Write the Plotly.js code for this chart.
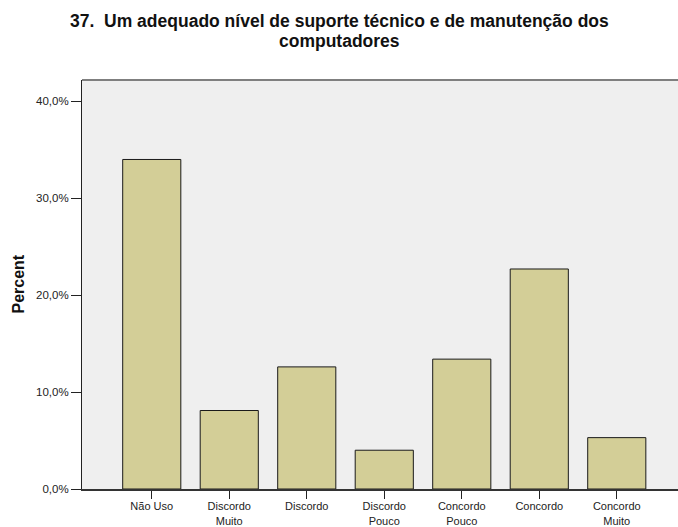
<!DOCTYPE html>
<html>
<head>
<meta charset="utf-8">
<script src="https://cdn.plot.ly/plotly-3.0.1.min.js"></script>
<style>html,body{margin:0;padding:0;background:#fff;}#chart{width:678px;height:527px;}</style>
</head>
<body>
<div id="chart"></div>
<script>
const categories = ["Não Uso", "Discordo<br>Muito", "Discordo", "Discordo<br>Pouco", "Concordo<br>Pouco", "Concordo", "Concordo<br>Muito"];
const percents = [34.0, 8.1, 12.6, 4.0, 13.4, 22.7, 5.3];
const yTicks = [0, 10, 20, 30, 40];
const yTickText = yTicks.map(v => v.toFixed(1).replace('.', ',') + '%');
const titleLines = ["37.&nbsp; Um adequado nível de suporte técnico e de manutenção dos", "computadores"];
const yTitle = "Percent";

const xIdx = categories.map((c, i) => i);

const trace = {
  type: 'bar',
  x: xIdx,
  y: percents,
  width: 0.75,
  marker: {color: '#d3ce97', line: {color: '#1a1a1a', width: 1}},
  hoverinfo: 'skip'
};

const L = 82, R = 678;
const px2paper = p => (p - L) / (R - L);

const layout = {
  width: 678, height: 527,
  margin: {l: L, r: 0, t: 80, b: 38},
  paper_bgcolor: '#ffffff',
  plot_bgcolor: '#efefef',
  font: {family: 'Liberation Sans, Arial, sans-serif', color: '#222', size: 11.5},
  xaxis: {
    range: [-0.9, 6.79],
    tickmode: 'array', tickvals: xIdx, ticktext: categories,
    ticks: 'outside', ticklen: 8, tickcolor: '#222', tickwidth: 1,
    ticklabelstandoff: -2,
    showline: true, linecolor: '#333', linewidth: 2,
    showgrid: false, zeroline: false,
    tickfont: {size: 11, color: '#222'}
  },
  yaxis: {
    range: [0, 42.2],
    tickmode: 'array', tickvals: yTicks, ticktext: yTickText,
    ticks: 'outside', ticklen: 10, tickcolor: '#222', tickwidth: 1,
    showline: true, linecolor: '#222', linewidth: 1,
    showgrid: false, zeroline: false,
    tickfont: {size: 11.5, color: '#222'}
  },
  annotations: [
    {text: '<b>' + titleLines[0] + '</b>', xref: 'paper', yref: 'paper', x: px2paper(339), y: 1,
     xanchor: 'center', yanchor: 'middle', yshift: 59, showarrow: false,
     font: {size: 17.5, color: '#111'}},
    {text: '<b>' + titleLines[1] + '</b>', xref: 'paper', yref: 'paper', x: px2paper(339), y: 1,
     xanchor: 'center', yanchor: 'middle', yshift: 39, showarrow: false,
     font: {size: 17.5, color: '#111'}},
    {text: '<b>' + yTitle + '</b>', xref: 'paper', yref: 'paper', x: px2paper(18), y: 0.5,
     xanchor: 'center', yanchor: 'middle', textangle: -90, showarrow: false,
     font: {size: 16, color: '#111'}}
  ],
  shapes: [{
    type: 'line', xref: 'paper', yref: 'paper', x0: 0, x1: 1, y0: 1, y1: 1,
    line: {color: '#7f7f7f', width: 2}
  }],
  showlegend: false
};

Plotly.newPlot('chart', [trace], layout, {displayModeBar: false, staticPlot: true});
</script>
</body>
</html>
